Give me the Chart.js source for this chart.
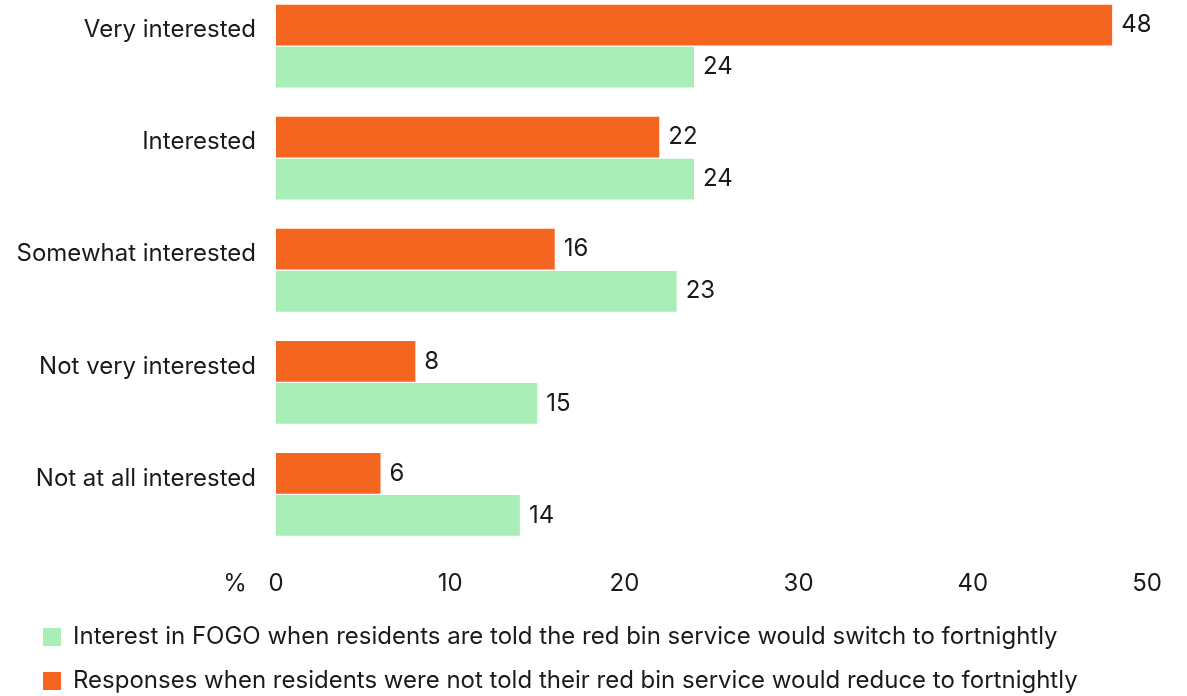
<!DOCTYPE html>
<html>
<head>
<meta charset="utf-8">
<script src="https://cdn.jsdelivr.net/npm/chart.js@4"></script>
<style>
  html, body { margin: 0; padding: 0; background: #fff; overflow: hidden; }
  #wrap { position: absolute; left: 0; top: -10px; width: 1187px; height: 713px; }
</style>
</head>
<body>
<div id="wrap"><canvas id="fogoChart" width="1187" height="713"></canvas></div>
<script>
const categories = ['Very interested', 'Interested', 'Somewhat interested', 'Not very interested', 'Not at all interested'];
const notToldValues = [48, 22, 16, 8, 6];
const toldValues = [24, 24, 23, 15, 14];
const xTicks = [0, 10, 20, 30, 40, 50];
const notToldLabel = 'Responses when residents were not told their red bin service would reduce to fortnightly';
const toldLabel = 'Interest in FOGO when residents are told the red bin service would switch to fortnightly';

const FONT = "Inter, 'Noto Sans', sans-serif";
const TEXT = '#1a1a1a';

// value labels to the right of each bar
const valueLabels = {
  id: 'valueLabels',
  afterDatasetsDraw(chart) {
    const ctx = chart.ctx;
    ctx.save();
    ctx.font = '24px ' + FONT;
    ctx.fillStyle = TEXT;
    ctx.textAlign = 'left';
    ctx.textBaseline = 'middle';
    chart.data.datasets.forEach((ds, i) => {
      chart.getDatasetMeta(i).data.forEach((bar, j) => {
        ctx.fillText(ds.data[j], bar.x + 9, bar.y);
      });
    });
    ctx.restore();
  }
};

// "%" unit to the left of the zero tick, on the same line as the ticks
const percentUnit = {
  id: 'percentUnit',
  afterDraw(chart) {
    const x = chart.scales.x;
    const item = x.getLabelItems()[0];
    const [tx, ty] = item.options.translation;
    const ctx = chart.ctx;
    ctx.save();
    ctx.font = '24px ' + FONT;
    ctx.fillStyle = TEXT;
    ctx.textAlign = 'center';
    ctx.textBaseline = item.options.textBaseline;
    ctx.fillText('%', tx - 41, ty + item.textOffset);
    ctx.restore();
  }
};

// indent the legend a little from the left edge
const legendIndent = {
  id: 'legendIndent',
  afterLayout(chart) {
    chart.legend.left += 23;
  }
};

new Chart(document.getElementById('fogoChart'), {
  type: 'bar',
  data: {
    labels: categories,
    datasets: [
      {
        label: notToldLabel,
        data: notToldValues,
        backgroundColor: '#f4661f',
        barPercentage: 0.97,
        categoryPercentage: 0.75
      },
      {
        label: toldLabel,
        data: toldValues,
        backgroundColor: '#a9eeb6',
        barPercentage: 0.97,
        categoryPercentage: 0.75
      }
    ]
  },
  options: {
    indexAxis: 'y',
    responsive: false,
    animation: false,
    layout: { padding: { left: 0, right: 40, top: 0, bottom: 0 } },
    scales: {
      x: {
        min: 0,
        max: 50,
        afterBuildTicks: (s) => { s.ticks = xTicks.map(v => ({ value: v })); },
        afterFit: (s) => { s.height = 54.5; },
        grid: { display: false },
        border: { display: false },
        ticks: { padding: 11, color: TEXT, font: { family: FONT, size: 24 } }
      },
      y: {
        afterFit: (s) => { s.width = 276; s.paddingTop = 0; s.paddingBottom = 0; },
        grid: { display: false, drawTicks: false },
        border: { display: false },
        ticks: { padding: 20, labelOffset: -16, color: TEXT, font: { family: FONT, size: 24 } }
      }
    },
    plugins: {
      tooltip: { enabled: false },
      legend: {
        position: 'bottom',
        align: 'start',
        reverse: true,
        labels: {
          boxWidth: 18,
          boxHeight: 18,
          padding: 20,
          color: TEXT,
          font: { family: FONT, size: 24 }
        }
      }
    }
  },
  plugins: [valueLabels, percentUnit, legendIndent]
});
</script>
</body>
</html>
